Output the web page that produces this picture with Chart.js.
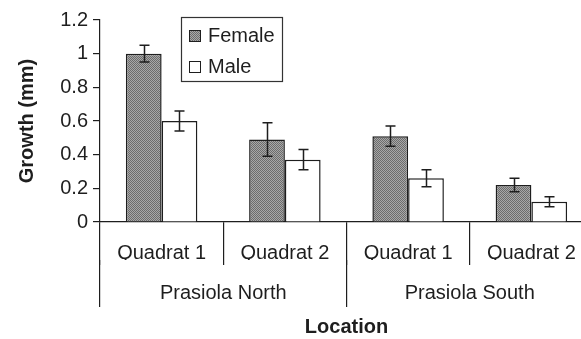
<!DOCTYPE html>
<html>
<head>
<meta charset="utf-8">
<script src="https://cdn.jsdelivr.net/npm/chart.js@4/dist/chart.umd.min.js"></script>
<style>
  html, body { margin: 0; padding: 0; background: #fff; overflow: hidden; }
  #wrap { width: 600px; height: 339px; }
</style>
</head>
<body>
<div id="wrap"><canvas id="growth" width="600" height="339"></canvas></div>
<script>
// Mean growth per quadrat, with error half-widths
const quadrats = ['Quadrat 1', 'Quadrat 2', 'Quadrat 1', 'Quadrat 2'];
const sites = ['Prasiola North', 'Prasiola South'];
const femaleGrowth = [1.00, 0.49, 0.51, 0.22];
const femaleError = [0.05, 0.10, 0.06, 0.04];
const maleGrowth = [0.60, 0.37, 0.26, 0.12];
const maleError = [0.06, 0.06, 0.05, 0.03];
const yTicks = [0, 0.2, 0.4, 0.6, 0.8, 1, 1.2];

const INK = '#1e1e1e';
Chart.defaults.font.family = '"Liberation Sans", Arial, sans-serif';
Chart.defaults.font.size = 20;
Chart.defaults.color = INK;

// Fine grey checker fill for the female bars
function stipple() {
  const p = document.createElement('canvas');
  p.width = 2; p.height = 2;
  const g = p.getContext('2d');
  g.fillStyle = '#a8a8a8';
  g.fillRect(0, 0, 2, 2);
  g.fillStyle = '#6c6c6c';
  g.fillRect(0, 0, 1, 1);
  g.fillRect(1, 1, 1, 1);
  return g.createPattern(p, 'repeat');
}

// Vertical error bars with caps
const errorBars = {
  id: 'errorBars',
  afterDatasetsDraw(chart) {
    const { ctx } = chart;
    const y = chart.scales.y;
    ctx.save();
    ctx.strokeStyle = INK;
    ctx.lineWidth = 1.5;
    chart.data.datasets.forEach((ds, i) => {
      chart.getDatasetMeta(i).data.forEach((bar, j) => {
        const v = ds.data[j], e = ds.errors[j];
        const x = Math.round(bar.x) + 0.5;
        const top = y.getPixelForValue(v + e);
        const bot = y.getPixelForValue(v - e);
        ctx.beginPath();
        ctx.moveTo(x, top); ctx.lineTo(x, bot);
        ctx.moveTo(x - 5, top); ctx.lineTo(x + 5, top);
        ctx.moveTo(x - 5, bot); ctx.lineTo(x + 5, bot);
        ctx.stroke();
      });
    });
    ctx.restore();
  }
};

// Framed legend inside the plot area
const boxedLegend = {
  id: 'boxedLegend',
  afterDraw(chart) {
    const { ctx, chartArea } = chart;
    const x0 = chartArea.left + 81, y0 = 17, w = 101, h = 64;
    ctx.save();
    ctx.strokeStyle = '#333';
    ctx.lineWidth = 1.2;
    ctx.strokeRect(x0 + 0.5, y0 + 0.5, w, h);
    ctx.font = '20px "Liberation Sans", Arial, sans-serif';
    ctx.textBaseline = 'middle';
    chart.data.datasets.forEach((ds, i) => {
      const cy = y0 + 18 + i * 31;
      ctx.fillStyle = ds.backgroundColor;
      ctx.fillRect(x0 + 8, cy - 5, 11, 11);
      ctx.strokeStyle = INK;
      ctx.lineWidth = 1;
      ctx.strokeRect(x0 + 8.5, cy - 4.5, 11, 11);
      ctx.fillStyle = INK;
      ctx.fillText(ds.label, x0 + 27, cy + 1);
    });
    ctx.restore();
  }
};

new Chart(document.getElementById('growth'), {
  type: 'bar',
  data: {
    labels: quadrats,
    datasets: [
      {
        label: 'Female',
        data: femaleGrowth,
        errors: femaleError,
        backgroundColor: stipple(),
        borderColor: INK,
        borderWidth: 1.5
      },
      {
        label: 'Male',
        data: maleGrowth,
        errors: maleError,
        backgroundColor: '#ffffff',
        borderColor: INK,
        borderWidth: 1.5
      }
    ]
  },
  options: {
    responsive: false,
    animation: false,
    events: [],
    categoryPercentage: 0.58,
    barPercentage: 1.0,
    layout: { padding: { top: 20, right: 7, left: 0, bottom: 0 } },
    plugins: {
      legend: { display: false },
      tooltip: { enabled: false }
    },
    scales: {
      x: {
        type: 'category',
        position: 'bottom',
        weight: 0,
        offset: true,
        grid: { offset: true, drawOnChartArea: false, tickLength: 43, color: INK, lineWidth: 1.2 },
        border: { display: true, color: INK, width: 1.2 },
        ticks: { padding: -24, maxRotation: 0, autoSkip: false },
        afterFit: s => { s.height = 38; }
      },
      site: {
        type: 'category',
        labels: sites,
        position: 'bottom',
        weight: 1,
        offset: true,
        grid: { offset: true, drawOnChartArea: false, tickLength: 47, color: INK, lineWidth: 1.2 },
        border: { display: false },
        ticks: { padding: -26, maxRotation: 0, autoSkip: false },
        title: { display: true, text: 'Location', font: { size: 20, weight: 'bold' }, padding: { top: 0, bottom: 0 } },
        afterFit: s => { s.height = 79; }
      },
      y: {
        position: 'left',
        min: 0,
        max: 1.2,
        afterBuildTicks: s => { s.ticks = yTicks.map(v => ({ value: v })); },
        ticks: { padding: 5, callback: v => String(v) },
        grid: { drawOnChartArea: false, tickLength: 7, color: INK, lineWidth: 1.2 },
        border: { color: INK, width: 1.2 },
        title: { display: true, text: 'Growth (mm)', font: { size: 20, weight: 'bold' }, padding: { top: 15, bottom: 0 } },
        afterFit: s => { s.width = 100; }
      }
    }
  },
  plugins: [errorBars, boxedLegend]
});
</script>
</body>
</html>
